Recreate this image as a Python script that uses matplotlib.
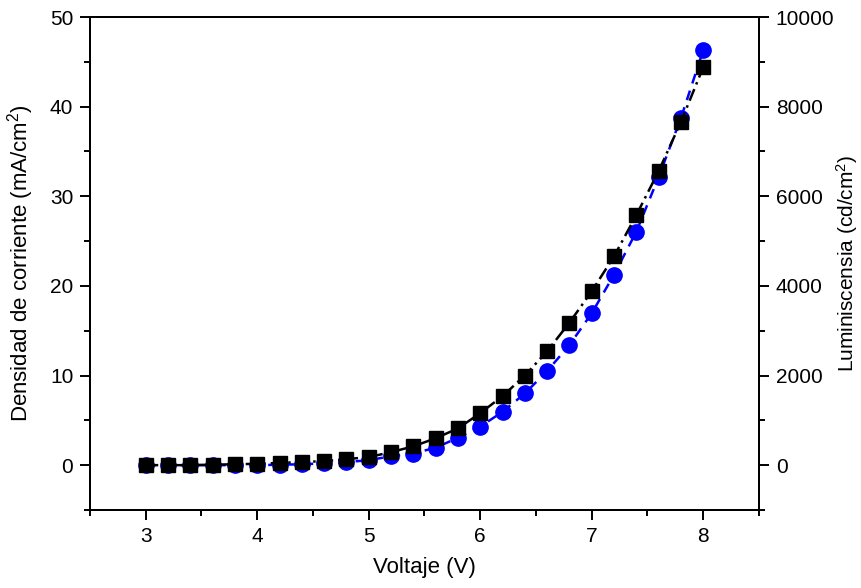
import numpy as np
import matplotlib.pyplot as plt
from matplotlib.ticker import MultipleLocator

plt.rcParams['font.family'] = ['Liberation Sans', 'DejaVu Sans']
plt.rcParams['mathtext.default'] = 'regular'

# data
voltaje = [3.0, 3.2, 3.4, 3.6, 3.8, 4.0, 4.2, 4.4, 4.6, 4.8, 5.0, 5.2, 5.4,
           5.6, 5.8, 6.0, 6.2, 6.4, 6.6, 6.8, 7.0, 7.2, 7.4, 7.6, 7.8, 8.0]
densidad = [0.0, 0.0, 0.0, 0.05, 0.1, 0.15, 0.25, 0.35, 0.45, 0.67, 0.9, 1.45,
            2.1, 3.0, 4.1, 5.8, 7.7, 10.0, 12.7, 15.9, 19.4, 23.3, 27.9,
            32.8, 38.3, 44.4]
luminiscencia = [0, 0, 0, 0, 0, 0, 10, 20, 40, 70, 110, 200, 260, 390, 610,
                 860, 1190, 1600, 2100, 2680, 3390, 4250, 5210, 6430, 7745,
                 9260]

fig = plt.figure(figsize=(8.61, 5.88), dpi=100)
ax = fig.add_axes([0.1045, 0.1327, 0.777, 0.8383])
ax2 = ax.twinx()

ax2.plot(voltaje, luminiscencia, color='blue', linestyle=(0, (4, 3)),
         linewidth=1.8, marker='o', markersize=11)
ax.plot(voltaje, densidad, color='black', linestyle=(0, (5, 2, 1, 2)),
        linewidth=1.8, marker='s', markersize=10)

ax.set_zorder(ax2.get_zorder() + 1)
ax.patch.set_visible(False)

ax.set_xlim(2.5, 8.5)
ax.set_ylim(-5, 50)
ax2.set_ylim(-1000, 10000)

ax.xaxis.set_major_locator(MultipleLocator(1))
ax.xaxis.set_minor_locator(MultipleLocator(0.5))
ax.yaxis.set_major_locator(MultipleLocator(10))
ax.yaxis.set_minor_locator(MultipleLocator(5))
ax2.yaxis.set_major_locator(MultipleLocator(2000))
ax2.yaxis.set_minor_locator(MultipleLocator(1000))

for a in (ax, ax2):
    for s in a.spines.values():
        s.set_linewidth(1.4)
    a.tick_params(which='major', direction='out', length=7, width=1.4,
                  labelsize=15, pad=5)
    a.tick_params(which='minor', direction='out', length=4, width=1.4)
ax.tick_params(top=False, right=False)
ax.tick_params(which='minor', top=False, right=False)

ax.set_xlabel('Voltaje (V)', fontsize=16, labelpad=8)
ax.set_ylabel('Densidad de corriente (mA/cm$^2$)', fontsize=16, labelpad=10)
ax2.set_ylabel('Luminiscensia (cd/cm$^2$)', fontsize=15, labelpad=0)

fig.savefig('out.png', dpi=100)
